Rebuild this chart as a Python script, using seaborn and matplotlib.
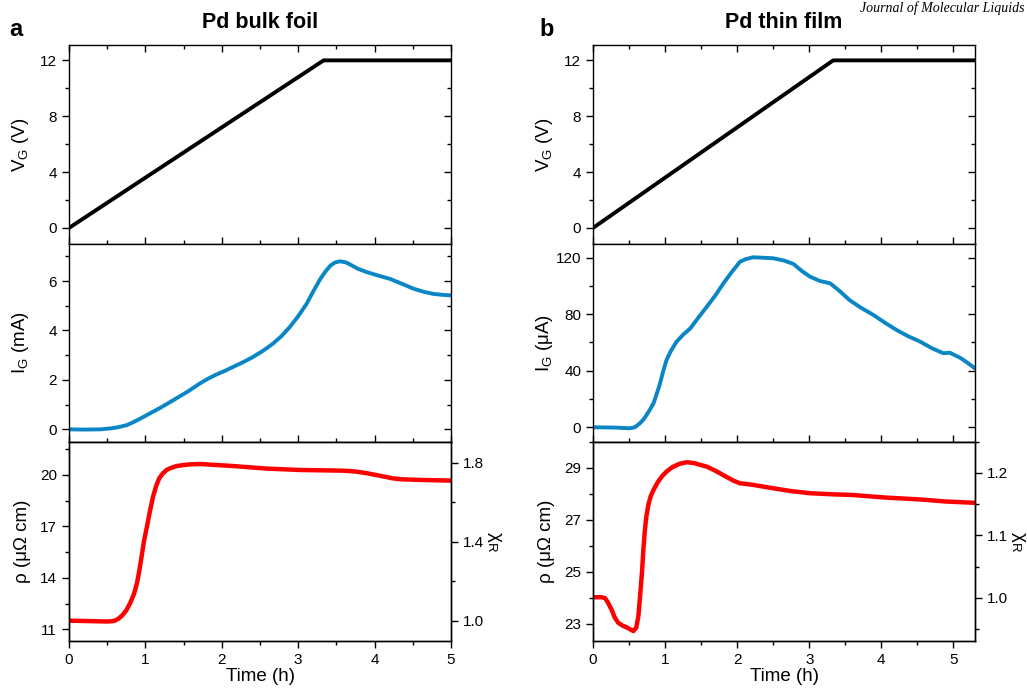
import numpy as np
import pandas as pd
import matplotlib
matplotlib.use("Agg")
import matplotlib.pyplot as plt
from matplotlib.ticker import MultipleLocator, FormatStrFormatter
import seaborn as sns

# ---------------- data ----------------
# gate voltage ramp
vg_t_a = [0.0, 3.333, 5.0]
vg_v_a = [0.0, 12.0, 12.0]
vg_t_b = [0.0, 3.333, 5.3]
vg_v_b = [0.0, 12.0, 12.0]

# gate current, bulk foil (mA)
ig_t_a = [0.0, 0.2, 0.41, 0.55, 0.65, 0.755, 0.85, 0.93, 1.02, 1.2, 1.365, 1.55, 1.71, 1.82, 1.93,
          2.05, 2.15, 2.28, 2.41, 2.55, 2.67, 2.78, 2.89, 3.0, 3.11, 3.2, 3.29, 3.36, 3.42, 3.48,
          3.55, 3.62, 3.68, 3.78, 3.9, 4.05, 4.2, 4.35, 4.51, 4.65, 4.77, 4.9, 5.0]
ig_v_a = [0.0, -0.01, 0.0, 0.04, 0.09, 0.17, 0.3, 0.43, 0.58, 0.88, 1.18, 1.52, 1.85, 2.05, 2.22,
          2.38, 2.53, 2.72, 2.93, 3.2, 3.47, 3.77, 4.14, 4.58, 5.08, 5.6, 6.09, 6.4, 6.62, 6.75,
          6.8, 6.76, 6.67, 6.5, 6.36, 6.22, 6.09, 5.9, 5.69, 5.56, 5.48, 5.44, 5.42]

# gate current, thin film (uA)
ig_t_b = [0.0, 0.3, 0.51, 0.58, 0.65, 0.7, 0.74, 0.79, 0.84, 0.88, 0.93, 0.97, 1.02, 1.08, 1.16,
          1.25, 1.35, 1.46, 1.58, 1.7, 1.81, 1.92, 2.04, 2.12, 2.22, 2.35, 2.5, 2.65, 2.78, 2.9,
          3.01, 3.15, 3.29, 3.42, 3.56, 3.72, 3.89, 4.05, 4.21, 4.37, 4.54, 4.7, 4.86, 4.95, 5.1,
          5.2, 5.3]
ig_v_b = [0.0, -0.2, -0.7, 0.0, 2.8, 5.5, 8.5, 12.5, 17.0, 23.0, 31.0, 39.0, 47.6, 54.0, 60.6,
          65.5, 70.0, 77.5, 85.4, 93.5, 101.9, 109.5, 117.2, 119.0, 120.3, 120.0, 119.6, 118.0,
          115.6, 110.5, 106.6, 103.5, 101.9, 96.5, 90.0, 84.5, 79.5, 74.0, 68.9, 64.5, 60.6, 56.0,
          52.4, 52.8, 49.0, 45.5, 41.7]

# resistivity, bulk foil (uOhm cm)
rho_t_a = [0.0, 0.49, 0.55, 0.6, 0.65, 0.7, 0.75, 0.8, 0.85, 0.89, 0.92, 0.95, 0.98, 1.02, 1.06,
           1.10, 1.14, 1.18, 1.23, 1.28, 1.34, 1.41, 1.5, 1.6, 1.71, 2.15, 2.59, 3.02, 3.59, 3.75,
           3.9, 4.05, 4.15, 4.24, 4.35, 4.59, 5.0]
rho_v_a = [11.5, 11.45, 11.46, 11.5, 11.62, 11.82, 12.1, 12.52, 13.05, 13.69, 14.4, 15.24, 16.1,
           16.99, 17.9, 18.73, 19.35, 19.8, 20.1, 20.3, 20.42, 20.52, 20.58, 20.62, 20.64, 20.52,
           20.37, 20.29, 20.25, 20.2, 20.1, 19.97, 19.88, 19.8, 19.75, 19.71, 19.67]
rho0_a = 11.5

# resistivity, thin film (uOhm cm)
rho_t_b = [0.0, 0.12, 0.17, 0.21, 0.26, 0.3, 0.35, 0.41, 0.47, 0.52, 0.56, 0.6, 0.63, 0.66, 0.68,
           0.70, 0.72, 0.74, 0.77, 0.80, 0.84, 0.9, 0.96, 1.02, 1.1, 1.2, 1.30, 1.4, 1.5, 1.58,
           1.7, 1.85, 1.95, 2.04, 2.2, 2.5, 2.75, 3.01, 3.3, 3.61, 4.07, 4.54, 4.9, 5.3]
rho_v_b = [24.02, 24.02, 23.98, 23.8, 23.53, 23.25, 23.04, 22.93, 22.86, 22.78, 22.72, 22.85,
           23.3, 24.3, 25.0, 25.9, 26.6, 27.12, 27.6, 27.9, 28.15, 28.45, 28.68, 28.85, 29.02,
           29.15, 29.21, 29.18, 29.1, 29.04, 28.88, 28.65, 28.5, 28.4, 28.35, 28.21, 28.1, 28.02,
           27.98, 27.95, 27.85, 27.78, 27.7, 27.65]
rho0_b = 24.0

titles = ["Pd bulk foil", "Pd thin film"]
panel_letters = ["a", "b"]

# ---------------- style ----------------
sns.set_style("ticks")
plt.rcParams['font.family'] = ['Liberation Sans', 'DejaVu Sans']
plt.rcParams['mathtext.fontset'] = 'custom'
plt.rcParams['mathtext.rm'] = 'Liberation Sans'
plt.rcParams['mathtext.it'] = 'Liberation Sans:italic'
plt.rcParams['axes.linewidth'] = 1.0
plt.rcParams['axes.edgecolor'] = 'black'
plt.rcParams['text.color'] = 'black'
plt.rcParams['axes.labelcolor'] = 'black'
plt.rcParams['xtick.color'] = 'black'
plt.rcParams['ytick.color'] = 'black'

BLACK = "#000000"
BLUE = "#0A86C6"
RED = "#FF0000"

fig = plt.figure(figsize=(10.27, 6.89), dpi=100)

W, H = 1027.0, 689.0
col_x = [(69, 451), (593, 975)]
rows_y = [(45, 244), (244, 441.7), (441.7, 640.7)]

def add_ax(col, row):
    x0, x1 = col_x[col]
    y0, y1 = rows_y[row]
    return fig.add_axes([x0 / W, 1 - y1 / H, (x1 - x0) / W, (y1 - y0) / H])

TICK_FS = 11
LABEL_FS = 13.5

def style_y_left(ax, major, minor):
    ax.yaxis.set_major_locator(major)
    ax.yaxis.set_minor_locator(minor)
    ax.tick_params(axis='y', which='both', left=True, right=False, direction='out',
                   labelsize=TICK_FS)
    ax.tick_params(axis='y', which='major', length=5, width=1)
    ax.tick_params(axis='y', which='minor', length=3, width=1)

def style_x(ax, bottom_panel, top_panel, xmax):
    ax.set_xlim(0, xmax)
    ax.xaxis.set_major_locator(MultipleLocator(1))
    ax.xaxis.set_minor_locator(MultipleLocator(0.5))
    if bottom_panel:
        ax.tick_params(axis='x', which='both', bottom=True, top=False, direction='out',
                       labelbottom=True, labelsize=TICK_FS)
    else:
        ax.tick_params(axis='x', which='both', bottom=True, top=top_panel, direction='in',
                       labelbottom=False)
    ax.tick_params(axis='x', which='major', length=5, width=1)
    ax.tick_params(axis='x', which='minor', length=3, width=1)

cols = [
    dict(vt=vg_t_a, vv=vg_v_a, it=ig_t_a, iv=ig_v_a, ilim=(-0.5, 7.5),
         imaj=MultipleLocator(2), imin=MultipleLocator(1),
         ilabel="I$_{\\mathrm{G}}$ (mA)", rt=rho_t_a, rv=rho_v_a, rlim=(10.33, 21.94),
         rmaj=MultipleLocator(3, offset=2), rmin=MultipleLocator(1.5, offset=0.5),
         rho0=rho0_a, chimaj=MultipleLocator(0.4, offset=0.2), chimin=MultipleLocator(0.2),
         xmax=5.0),
    dict(vt=vg_t_b, vv=vg_v_b, it=ig_t_b, iv=ig_v_b, ilim=(-10.2, 129.7),
         imaj=MultipleLocator(40), imin=MultipleLocator(20),
         ilabel="I$_{\\mathrm{G}}$ (μA)", rt=rho_t_b, rv=rho_v_b, rlim=(22.35, 30.0),
         rmaj=MultipleLocator(2, offset=1), rmin=MultipleLocator(1),
         rho0=rho0_b, chimaj=MultipleLocator(0.1), chimin=MultipleLocator(0.05), xmax=5.3),
]

for c, d in enumerate(cols):
    # --- top: gate voltage ---
    ax1 = add_ax(c, 0)
    df = pd.DataFrame({"t": d["vt"], "v": d["vv"]})
    sns.lineplot(data=df, x="t", y="v", ax=ax1, color=BLACK, lw=2.8, estimator=None)
    ax1.set_ylim(-1.15, 13.1)
    style_y_left(ax1, MultipleLocator(4), MultipleLocator(2))
    style_x(ax1, False, True, d["xmax"])
    ax1.set_xlabel("")
    ax1.set_ylabel("V$_{\\mathrm{G}}$ (V)", fontsize=LABEL_FS)

    # --- middle: gate current ---
    ax2 = add_ax(c, 1)
    df = pd.DataFrame({"t": d["it"], "i": d["iv"]})
    sns.lineplot(data=df, x="t", y="i", ax=ax2, color=BLUE, lw=2.8, estimator=None)
    ax2.set_ylim(*d["ilim"])
    style_y_left(ax2, d["imaj"], d["imin"])
    style_x(ax2, False, False, d["xmax"])
    ax2.set_xlabel("")
    ax2.set_ylabel(d["ilabel"], fontsize=LABEL_FS)

    # --- bottom: resistivity ---
    ax3 = add_ax(c, 2)
    df = pd.DataFrame({"t": d["rt"], "r": d["rv"]})
    sns.lineplot(data=df, x="t", y="r", ax=ax3, color=RED, lw=3.2, estimator=None)
    ax3.set_ylim(*d["rlim"])
    style_y_left(ax3, d["rmaj"], d["rmin"])
    style_x(ax3, True, False, d["xmax"])
    ax3.set_xlabel("Time (h)", fontsize=LABEL_FS, labelpad=1)
    ax3.set_ylabel("ρ (μΩ cm)", fontsize=LABEL_FS)

    ax3r = ax3.twinx()
    ax3r.set_ylim(d["rlim"][0] / d["rho0"], d["rlim"][1] / d["rho0"])
    ax3r.yaxis.set_major_locator(d["chimaj"])
    ax3r.yaxis.set_minor_locator(d["chimin"])
    ax3r.yaxis.set_major_formatter(FormatStrFormatter("%.1f"))
    ax3r.tick_params(axis='y', which='both', direction='out', labelsize=TICK_FS)
    ax3r.tick_params(axis='y', which='major', length=5, width=1)
    ax3r.tick_params(axis='y', which='minor', length=3, width=1)
    ax3r.set_ylabel("χ$_{\\mathrm{R}}$", fontsize=LABEL_FS, rotation=270, labelpad=14)

    # inward right ticks for top and middle panels
    for ax in (ax1, ax2):
        ax.tick_params(axis='y', which='both', right=True, labelright=False)
        for tk in ax.yaxis.get_major_ticks() + ax.yaxis.get_minor_ticks():
            tk.tick2line.set_marker(matplotlib.lines.TICKLEFT)

    for ax in (ax1, ax2, ax3):
        ax.yaxis.set_label_coords(-0.10, 0.5)
        for s in ax.spines.values():
            s.set_visible(True)
            s.set_linewidth(1.0)
            s.set_color('black')

    xc = (col_x[c][0] + col_x[c][1]) / 2 / W
    fig.text(xc, 1 - 22 / H, titles[c], ha='center', va='center', fontsize=15.5, fontweight='bold')
    lx = [9, 539][c]
    fig.text(lx / W, 1 - 29 / H, panel_letters[c], ha='left', va='center', fontsize=17,
             fontweight='bold')

fig.text(1024 / W, 1 - 12 / H, "Journal of Molecular Liquids", ha='right', va='baseline',
         fontsize=10, style='italic', family=['Liberation Serif', 'DejaVu Serif'])

fig.savefig("out.png", dpi=100)
